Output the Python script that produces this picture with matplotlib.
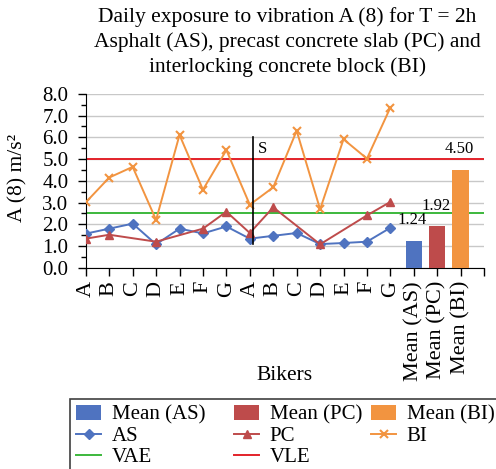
import numpy as np
import matplotlib.pyplot as plt
from matplotlib.patches import Rectangle
from matplotlib.ticker import MultipleLocator, FixedLocator, FormatStrFormatter

plt.rcParams['font.family'] = ['Liberation Serif', 'DejaVu Serif']

bikers = ['A', 'B', 'C', 'D', 'E', 'F', 'G', 'A', 'B', 'C', 'D', 'E', 'F', 'G']
mean_labels = ['Mean (AS)', 'Mean (PC)', 'Mean (BI)']
as_vals = [1.57, 1.80, 2.03, 1.08, 1.80, 1.58, 1.90, 1.34, 1.47, 1.60, 1.09, 1.14, 1.20, 1.84]
pc_vals = [1.34, 1.52, np.nan, 1.20, np.nan, 1.80, 2.58, 1.60, 2.78, np.nan, 1.08, np.nan, 2.41, 3.03]
bi_vals = [3.01, 4.15, 4.64, 2.20, 6.11, 3.59, 5.41, 2.90, 3.70, 6.30, 2.69, 5.91, 5.02, 7.37]
means = [1.24, 1.92, 4.50]
vae = 2.5
vle = 5.0

c_as = '#4F73C0'
c_pc = '#BE4B4B'
c_bi = '#F29440'

fig = plt.figure(figsize=(4.96, 4.69), dpi=100)
ax = fig.add_axes([0.173, 0.429, 0.803, 0.371])

x = np.arange(len(bikers))
pc = np.array(pc_vals)
ok = ~np.isnan(pc)

xb = np.arange(len(bikers), len(bikers) + len(means))
bars = []
for xi, m, c, lab in zip(xb, means, [c_as, c_pc, c_bi], mean_labels):
    b = ax.bar(xi, m, width=0.7, color=c, label=lab, zorder=3)
    bars.append(b)
    ax.annotate(f'{m:.2f}', (xi, m), xytext=(-1, 9), textcoords='offset points',
                ha='center', va='bottom', fontsize=12)

l_as, = ax.plot(x, as_vals, color=c_as, marker='D', ms=5, lw=1.4, label='AS', zorder=4)
l_pc, = ax.plot(x[ok], pc[ok], color=c_pc, marker='^', ms=6, lw=1.4, label='PC', zorder=4)
l_bi, = ax.plot(x, bi_vals, color=c_bi, marker='x', ms=6, mew=1.5, lw=1.4, label='BI', zorder=4)
l_vae = ax.axhline(vae, color='#3CB83C', lw=1.4, label='VAE', zorder=2)
l_vle = ax.axhline(vle, color='#E3222A', lw=1.4, label='VLE', zorder=2)

ax.plot([7.15, 7.15], [1.1, 6.0], color='black', lw=1.2, zorder=5)
ax.text(7.35, 5.45, 'S', fontsize=12, va='center', ha='left')

ax.set_xlim(0, 17)
ax.set_ylim(0, 8)
ax.xaxis.set_major_locator(FixedLocator(np.arange(0, 18)))
ax.set_xticklabels(bikers + mean_labels + [''], rotation=90, fontsize=16)
ax.yaxis.set_major_locator(MultipleLocator(1))
ax.yaxis.set_minor_locator(MultipleLocator(0.5))
ax.yaxis.set_major_formatter(FormatStrFormatter('%.1f'))
ax.grid(axis='y', color='#C8C8C8', lw=1.0, zorder=0)
ax.set_axisbelow(True)
for s in ['top', 'right']:
    ax.spines[s].set_visible(False)
ax.tick_params(axis='both', which='both', direction='out', length=6, width=1)
ax.tick_params(axis='y', which='minor', length=3.5)
ax.tick_params(axis='y', which='major', labelsize=15, pad=6.5)
ax.set_ylabel('A (8) m/s²', fontsize=15.5)
ax.yaxis.set_label_coords(-0.146, 0.517)
ax.set_xlabel('Bikers', fontsize=15.5, va='top')
ax.xaxis.set_label_coords(0.5, -0.565)
fig.text(0.58, 0.985, 'Daily exposure to vibration A (8) for T = 2h\nAsphalt (AS), precast concrete slab (PC) and\n'
         'interlocking concrete block (BI)', fontsize=15.5, ha='center', va='top', linespacing=1.36)

# legend: three columns placed like the Excel legend, one shared frame
columns = [[bars[0], l_as, l_vae], [bars[1], l_pc, l_vle], [bars[2], l_bi]]
col_x = [72, 230, 367]
for hs, cx in zip(columns, col_x):
    lg = fig.legend(handles=hs, loc='upper left', bbox_to_anchor=(cx / 496, 1 - 401 / 469),
                    fontsize=15, frameon=False, handlelength=1.2, handletextpad=0.5,
                    labelspacing=0.08, borderpad=0.2, borderaxespad=0)
fig.patches.append(Rectangle((70 / 496, -0.05), 1.0, 1 - 399 / 469 + 0.05, transform=fig.transFigure,
                             fill=False, edgecolor='#404040', lw=1.2))

fig.savefig('out.png', dpi=100)
